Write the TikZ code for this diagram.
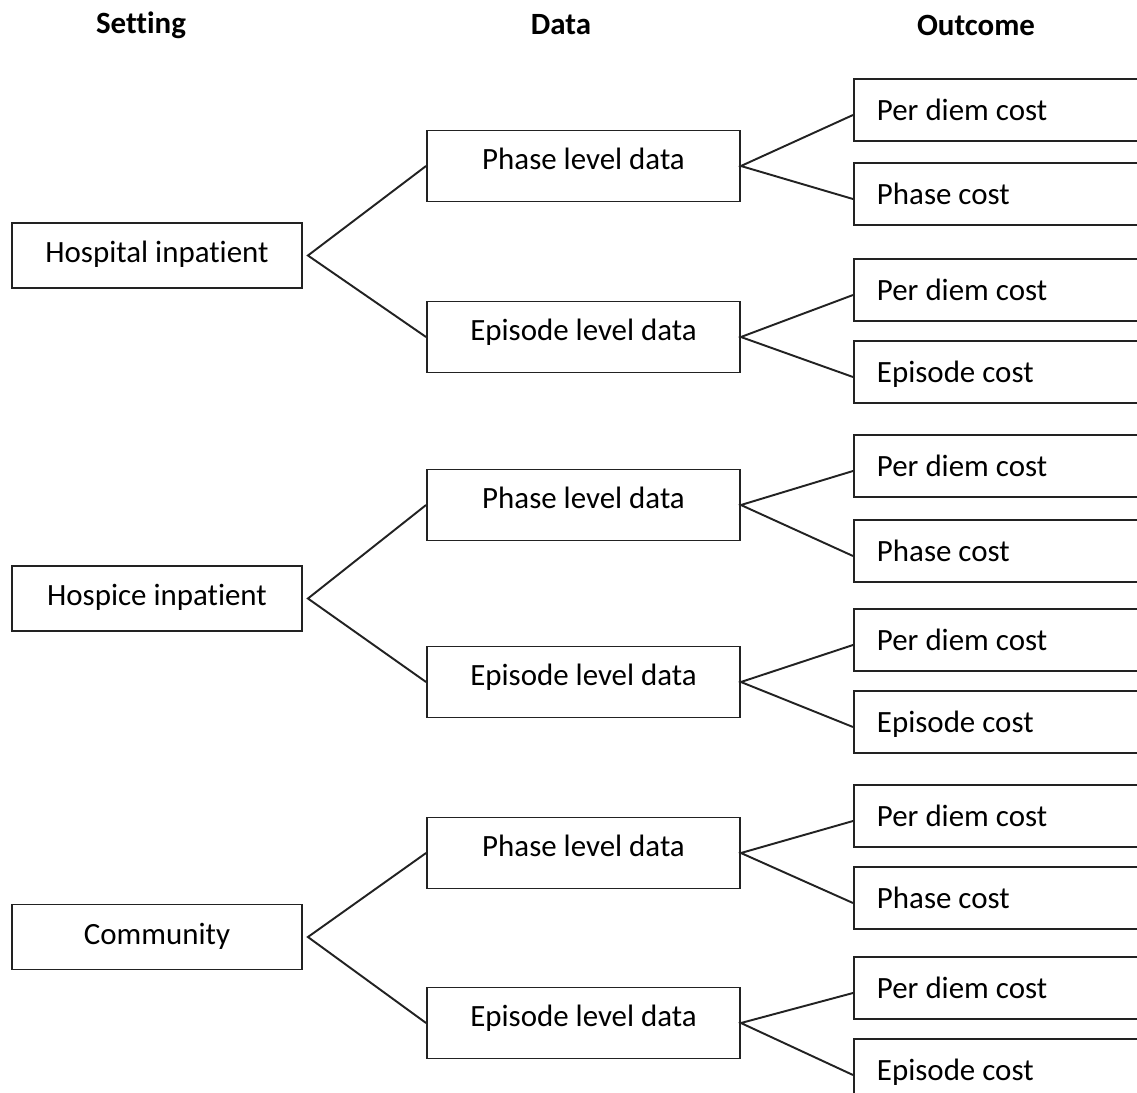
\documentclass[tikz,border=0pt]{standalone}
\usepackage{fontspec}
\setmainfont[Ligatures=NoCommon]{Carlito}
\usepackage{tikz}
\usepackage{xcolor}
\definecolor{myline}{HTML}{222222}
\newcommand{\otext}[1]{\makebox[5.6cm][l]{#1}}
\tikzset{
  setbox/.style={draw=myline, line width=1.1pt, minimum width=5.8cm, minimum height=1.3cm,
    inner sep=0pt, text height=11pt, text depth=3pt},
  databox/.style={draw=myline, line width=1.1pt, minimum width=6.26cm, minimum height=1.42cm,
    inner sep=0pt, text height=11pt, text depth=6.5pt},
  outbox/.style={draw=myline, line width=1.1pt, anchor=west, minimum height=1.24cm,
    inner xsep=0.46cm, inner ysep=0pt, text height=12.4pt, text depth=0pt},
  header/.style={font=\fontsize{17.6}{21}\selectfont\bfseries},
  link/.style={draw=myline, line width=1.1pt}
}
\begin{document}
\begin{tikzpicture}[x=0.02cm, y=-0.02cm, every node/.style={font=\fontsize{17.6}{21}\selectfont}]
  \useasboundingbox (0,0) rectangle (1137,1093);
  \clip (0,0) rectangle (1137,1093);
  \node[header] (hset) at (141, 25) {Setting};
  \node[header] (hdata) at (561, 25) {Data};
  \node[header] (hout) at (976, 25) {Outcome};
  \foreach \g/\name/\ys/\yp/\ye/\ya/\yb/\yc/\yd in {
      1/Hospital inpatient/255.5/166/337/110/194/290/372,
      2/Hospice inpatient/598.5/505/682/466/551/640/722,
      3/Community/937/853/1023/816/898/988/1070} {
    \node[setbox] (s\g) at (157, \ys) {\name};
    \node[databox] (p\g) at (583.5, \yp) {Phase level data};
    \node[databox] (e\g) at (583.5, \ye) {Episode level data};
    \node[outbox] (pa\g) at (853, \ya) {\otext{Per diem cost}};
    \node[outbox] (pb\g) at (853, \yb) {\otext{Phase cost}};
    \node[outbox] (ea\g) at (853, \yc) {\otext{Per diem cost}};
    \node[outbox] (eb\g) at (853, \yd) {\otext{Episode cost}};
    \coordinate (f\g) at ([xshift=0.1cm]s\g.east);
    \draw[link] (p\g.west) -- (f\g) -- (e\g.west);
    \draw[link] ([yshift=-0.1cm]pa\g.west) -- (p\g.east) -- ([yshift=-0.1cm]pb\g.west);
    \draw[link] ([yshift=-0.1cm]ea\g.west) -- (e\g.east) -- ([yshift=-0.1cm]eb\g.west);
  }
\end{tikzpicture}
\end{document}
